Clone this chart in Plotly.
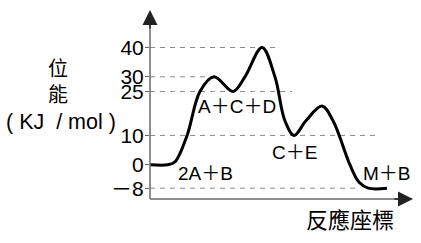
import plotly.graph_objects as go

# ---------------- data ----------------
# reaction coordinate (arbitrary units) and potential energy (kJ/mol)
path_x = [0.00, 0.68, 0.95, 1.41, 1.90, 2.43, 3.16, 3.61, 4.26, 4.75, 5.13, 5.48, 5.93, 6.54, 6.96, 7.60, 7.95, 8.30, 9.01]
path_e = [0, 0, 1, 10, 25, 30, 25, 30, 40, 30, 15, 10, 15, 20, 15, 0, -6, -8, -8]

tick_vals = [-8, 0, 10, 25, 30, 40]
tick_text = ["－8", "0", "10", "25", "30", "40"]

ref_levels = [40, 30, 25, 10, -8]          # dashed guide levels
species = ["2A＋B", "A＋C＋D", "C＋E", "M＋B"]

# ---------------- layout helpers ----------------
W, H = 421, 243
L, R, T, B = 150, 8, 10, 44
X_RANGE = [0, 10]
Y_RANGE = [-11.7, 52.8]
PW, PH = W - L - R, H - T - B


def px2x(px):
    return X_RANGE[0] + (px - L) / PW * (X_RANGE[1] - X_RANGE[0])


def py2y(py):
    return Y_RANGE[0] + (H - B - py) / PH * (Y_RANGE[1] - Y_RANGE[0])


def px2p(px):
    return (px - L) / PW


def py2p(py):
    return (H - B - py) / PH


guide_end_px = [280, 205, 292, 378, 360]      # right end of each dashed guide
species_pos_px = [(205, 173), (237, 106), (294.5, 152), (386.5, 173)]

LATIN = "Liberation Sans, Arial, Noto Sans CJK TC, sans-serif"
CJK = "Noto Sans CJK TC, Noto Sans CJK SC, sans-serif"
AXIS_GREY = "#6a6a6a"
NB = "\u00a0"

fig = go.Figure()

fig.add_trace(go.Scatter(
    x=path_x, y=path_e, mode="lines",
    line=dict(color="black", width=3, shape="spline", smoothing=1),
    hoverinfo="skip", showlegend=False,
))

shapes = []
for lvl, xe in zip(ref_levels, guide_end_px):
    shapes.append(dict(
        type="line", xref="x", yref="y", x0=X_RANGE[0], x1=px2x(xe), y0=lvl, y1=lvl,
        line=dict(color="#8a8a8a", width=1, dash="5px,5px"), layer="below",
    ))
# axis lines
shapes.append(dict(type="line", xref="paper", yref="paper", x0=0, x1=0, y0=0, y1=0.96,
                   line=dict(color=AXIS_GREY, width=1.5)))
shapes.append(dict(type="line", xref="paper", yref="paper", x0=0, x1=0.97, y0=0, y1=0,
                   line=dict(color=AXIS_GREY, width=1.5)))

annotations = []
# arrow heads
annotations.append(dict(
    x=0, y=1, ax=0, ay=20, xref="paper", yref="paper", text="", showarrow=True,
    arrowhead=2, arrowsize=2.0, arrowwidth=1.5, arrowcolor="#222", standoff=0,
))
annotations.append(dict(
    x=1, y=0, ax=-20, ay=0, xref="paper", yref="paper", text="", showarrow=True,
    arrowhead=2, arrowsize=2.0, arrowwidth=1.5, arrowcolor="#222", standoff=0,
))

for name, (px, py) in zip(species, species_pos_px):
    annotations.append(dict(
        x=px2x(px), y=py2y(py), xref="x", yref="y", text=name, showarrow=False,
        xanchor="center", yanchor="middle", font=dict(family=LATIN, size=19, color="black"),
    ))

# axis titles
annotations.append(dict(
    x=px2p(349.5), y=py2p(218), xref="paper", yref="paper", text="反應座標", showarrow=False,
    xanchor="center", yanchor="middle", font=dict(family=CJK, size=22, color="black"),
))
for txt, (px, py), fam, fs in [("位<br>能", (58, 80), CJK, 20),
                               ("( KJ" + NB + " / mol )", (61, 122), LATIN, 21.5)]:
    annotations.append(dict(
        x=px2p(px), y=py2p(py), xref="paper", yref="paper", text=txt, showarrow=False,
        xanchor="center", yanchor="middle", font=dict(family=fam, size=fs, color="black"),
    ))

fig.update_layout(
    width=W, height=H,
    margin=dict(l=L, r=R, t=T, b=B, pad=0),
    paper_bgcolor="white", plot_bgcolor="white",
    showlegend=False,
    xaxis=dict(range=X_RANGE, visible=False, automargin=False),
    yaxis=dict(range=Y_RANGE, tickvals=tick_vals, ticktext=tick_text,
               ticks="outside", ticklen=4, tickwidth=1, tickcolor=AXIS_GREY,
               ticklabelstandoff=-3,
               showgrid=False, zeroline=False, showline=False, automargin=False,
               tickfont=dict(family=LATIN, size=21, color="black")),
    shapes=shapes,
    annotations=annotations,
)

fig.write_html("out.html")
